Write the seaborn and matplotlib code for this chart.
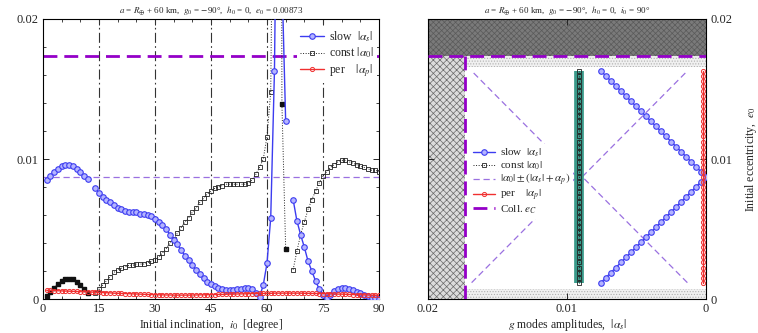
import numpy as np
import seaborn as sns
import matplotlib
matplotlib.use("Agg")
import matplotlib.pyplot as plt

sns.set_theme(style="ticks")
plt.rcParams['font.family'] = ['Liberation Serif', 'DejaVu Serif']
plt.rcParams['mathtext.fontset'] = 'stix'
plt.rcParams['hatch.linewidth'] = 0.5

# ---- left panel data (inclination scan, e0 = 0.00873) ----
incl = list(range(1, 91))
slow_i = [0.0085, 0.0088, 0.0091, 0.0093, 0.0095, 0.00955, 0.0096, 0.0095, 0.0093, 0.0091,
          0.0088, 0.0086, np.nan, 0.0079, 0.0076, 0.0073, 0.0071, 0.0069, 0.0067, 0.0065,
          0.0064, 0.0063, 0.0062, 0.0062, 0.0062, 0.0061, 0.0061, 0.0060, 0.0059, 0.0057,
          0.0055, 0.0053, 0.0050, 0.0046, 0.0042, 0.0039, 0.0035, 0.0031, 0.0028, 0.0024,
          0.0021, 0.0018, 0.0015, 0.0012, 0.00105, 0.0009, 0.0008, 0.0007, 0.00065, 0.00064,
          0.00065, 0.0007, 0.00075, 0.0008, 0.0008, 0.0007, 0.0004, 0.00015, 0.0010, 0.00255,
          0.0058, 0.0163, 0.040, 0.023, 0.0127, np.nan, 0.0071, 0.0056, 0.0046, 0.0037,
          0.0027, 0.0020, 0.0013, 0.0007, 0.0003, 0.0001, 0.0003, 0.0006, 0.00075, 0.0008,
          0.0008, 0.00075, 0.00065, 0.0005, 0.0004, 0.0003, 0.0002, 0.0001, 0.00005, 0.00002]
const_i = [0.0002, 0.0005, 0.0008, 0.0011, 0.0013, 0.0014, 0.0014, 0.0014, 0.0012, 0.0010,
           0.0007, 0.0004, np.nan, 0.0004, 0.0007, 0.0010, 0.0013, 0.0016, 0.0019, 0.0021,
           0.0022, 0.0023, 0.0024, 0.0024, 0.0025, 0.0025, 0.0025, 0.0026, 0.0027, 0.0028,
           0.0030, 0.0033, 0.0036, 0.0040, 0.0043, 0.0047, 0.0051, 0.0055, 0.0058, 0.0062,
           0.0065, 0.0069, 0.0072, 0.0075, 0.0077, 0.0079, 0.0080, 0.0081, 0.0082, 0.0082,
           0.0082, 0.0082, 0.0082, 0.0082, 0.0083, 0.0085, 0.0089, 0.0094, 0.0100, 0.0116,
           0.0148, 0.041, 0.15, 0.0139, 0.0036, np.nan, 0.0021, 0.0034, 0.0046, 0.0055,
           0.0064, 0.0071, 0.0077, 0.0083, 0.0088, 0.0091, 0.0094, 0.0096, 0.0098, 0.0099,
           0.0099, 0.0098, 0.0097, 0.0096, 0.0095, 0.0094, 0.0093, 0.0092, 0.0092, 0.0091]
const_filled = [1, 2, 3, 4, 5, 6, 7, 8, 9, 10, 11, 12, 64, 65]
per_i = [0.00062, 0.00061, 0.0006, 0.00059, 0.00058, 0.00057, 0.00056, 0.00055, 0.00054, 0.00053,
         0.00052, 0.00051, 0.0005, 0.00049, 0.00047, 0.00046, 0.00045, 0.00044, 0.00042, 0.00041,
         0.0004, 0.00039, 0.00038, 0.00037, 0.00036, 0.00035, 0.00034, 0.00033, 0.00032, 0.00031,
         0.0003, 0.0003, 0.00029, 0.00029, 0.00028, 0.00028, 0.00028, 0.00028, 0.00028, 0.00029,
         0.00029, 0.0003, 0.0003, 0.00031, 0.00031, 0.00032, 0.00033, 0.00033, 0.00034, 0.00035,
         0.00035, 0.00036, 0.00037, 0.00037, 0.00038, 0.00039, 0.00039, 0.0004, 0.0004, 0.00041,
         0.00041, 0.00042, 0.00042, 0.00042, 0.00042, 0.00042, 0.00042, 0.00042, 0.00042, 0.00041,
         0.00041, 0.0004, 0.0004, 0.00039, 0.00039, 0.00038, 0.00037, 0.00036, 0.00035, 0.00035,
         0.00034, 0.00033, 0.00032, 0.00031, 0.0003, 0.0003, 0.00029, 0.00028, 0.00028, 0.00027]
e_coll = 0.01736
e0_fixed = 0.00873
div_incl = [15, 30, 45, 60, 75]

# ---- right panel data (eccentricity scan, i0 = 90 deg) ----
ecc = [0.00117, 0.00153, 0.00189, 0.00225, 0.00261, 0.00297, 0.00333, 0.00369, 0.00405, 0.00441,
       0.00477, 0.00513, 0.00549, 0.00585, 0.00621, 0.00657, 0.00693, 0.00729, 0.00765, 0.00801,
       0.00837, 0.00873, 0.00909, 0.00945, 0.00981, 0.01017, 0.01053, 0.01089, 0.01125, 0.01161,
       0.01197, 0.01233, 0.01269, 0.01305, 0.01341, 0.01377, 0.01413, 0.01449, 0.01485, 0.01521,
       0.01557, 0.01593, 0.01629]
slow_e = [0.00756, 0.0072, 0.00684, 0.00648, 0.00612, 0.00576, 0.0054, 0.00504, 0.00468, 0.00432,
          0.00396, 0.0036, 0.00324, 0.00288, 0.00252, 0.00216, 0.0018, 0.00144, 0.00108, 0.00072,
          0.00036, 0.0, 0.00036, 0.00072, 0.00108, 0.00144, 0.0018, 0.00216, 0.00252, 0.00288,
          0.00324, 0.0036, 0.00396, 0.00432, 0.00468, 0.00504, 0.0054, 0.00576, 0.00612, 0.00648,
          0.00684, 0.0072, 0.00756]
const_e = [0.0091] * len(ecc)
per_e = [0.0002] * len(ecc)
strip_low = 0.00075
strip_high = 0.0166

blue = '#3c3cf0'
blue_fill = '#b4b4ff'
red = '#f03030'
purple = '#9400c8'
lpurple = '#9a70e0'
teal = '#3a9a8a'

fig = plt.figure(figsize=(7.58, 3.33), dpi=100)
ax1 = fig.add_axes([0.0567, 0.102, 0.4433, 0.841])
ax2 = fig.add_axes([0.5646, 0.102, 0.3668, 0.841])

# ---------------- left ----------------
x = np.array(incl)
for v in div_incl:
    ax1.axvline(v, color='#333333', lw=0.8, dashes=(9, 3, 1.5, 3), zorder=1)
ax1.axhline(e0_fixed, color=lpurple, lw=0.9, dashes=(5, 3), zorder=1)
ax1.axhline(e_coll, color=purple, lw=2.0, dashes=(5, 2.5), zorder=1)

ax1.plot(x, slow_i, color=blue, lw=1.0, marker='o', ms=4, mfc=blue_fill, mew=0.8,
         label=r'slow  $|\alpha_s|$', zorder=4)
ax1.plot(x, const_i, color='#222222', lw=0.7, ls=':', marker='s', ms=2.6, mfc='none', mew=0.6,
         label=r'const $|\alpha_0|$', zorder=3)
fill_idx = [incl.index(k) for k in const_filled]
ax1.plot(x[fill_idx], np.array(const_i)[fill_idx], ls='none', marker='s', ms=2.6,
         color='#111111', zorder=3)
sns.lineplot(x=incl, y=per_i, ax=ax1, color=red, lw=1.0, marker='o', markersize=3,
             markerfacecolor='none', markeredgecolor=red, markeredgewidth=0.7,
             label=r'per    $|\alpha_p|$', zorder=5)

ax1.set_xlim(0, 90)
ax1.set_ylim(0, 0.02)
ax1.set_xticks([0, 15, 30, 45, 60, 75, 90])
ax1.set_xticks(range(0, 91, 5), minor=True)
ax1.set_yticks([0, 0.01, 0.02])
ax1.set_yticklabels(['0', '0.01', '0.02'])
ax1.set_yticks(np.arange(0, 0.0201, 0.002), minor=True)
ax1.tick_params(which='both', direction='in', top=True, right=True, labelsize=9, pad=3)
ax1.tick_params(which='major', length=4, width=0.7)
ax1.tick_params(which='minor', length=2, width=0.6)
ax1.set_xlabel(r'Initial inclination,  $i_0$  [degree]', fontsize=8.5, labelpad=1)
ax1.set_title(r'$a$ = $R_{\oplus}$ + 60 km,  $g_0$ = $-$90°,  $h_0$ = 0,  $e_0$ = 0.00873',
              fontsize=6.5, pad=4)
leg1 = ax1.legend(loc='upper left', bbox_to_anchor=(0.755, 0.975), fontsize=8.5, frameon=True,
                  framealpha=1, edgecolor='none', handlelength=2.0, handletextpad=0.4,
                  labelspacing=0.15, borderpad=0.3, borderaxespad=0)
leg1.get_frame().set_linewidth(0)

# ---------------- right ----------------
# background regions
ax2.fill_between([0, 0.02], e_coll, 0.02, facecolor='#7a7a7a', hatch='xxxxxx',
                 edgecolor='#5a5a5a', lw=0, zorder=0)
ax2.fill_between([0.02, e_coll], 0, e_coll, facecolor='#dcdcdc', hatch='xxxxx',
                 edgecolor='#6a6a6a', lw=0, zorder=0)
ax2.fill_between([0, e_coll], strip_high, e_coll, facecolor='#f0f0f0', hatch='......',
                 edgecolor='#b0b0b0', lw=0, zorder=0)
ax2.fill_between([0, e_coll], 0, strip_low, facecolor='#f0f0f0', hatch='......',
                 edgecolor='#b0b0b0', lw=0, zorder=0)

upper = np.array(const_e) + np.array(slow_e) + np.array(per_e)
lower = np.array(const_e) - np.array(slow_e) - np.array(per_e)

ax2.plot(const_e, ecc, color=teal, lw=7, solid_capstyle='butt', zorder=2)
sns.lineplot(x=slow_e, y=ecc, ax=ax2, sort=False, estimator=None, color=blue, lw=1.0,
             marker='o', markersize=4, markerfacecolor=blue_fill, markeredgecolor=blue,
             markeredgewidth=0.8, label=r'slow  $|\alpha_s|$', zorder=4)
ax2.plot(const_e, ecc, color='#222222', lw=0.7, ls=':', marker='s', ms=2.6, mfc='none',
         mew=0.6, label=r'const $|\alpha_0|$', zorder=3)
ax2.plot(upper[:22], ecc[:22], color=lpurple, lw=0.9, dashes=(5, 3), zorder=1,
         label=r'$|\alpha_0| \pm (|\alpha_s| + \alpha_p)$')
ax2.plot(upper[21:], ecc[21:], color=lpurple, lw=0.9, dashes=(5, 3), zorder=1)
ax2.plot(lower[:22], ecc[:22], color=lpurple, lw=0.9, dashes=(5, 3), zorder=1)
ax2.plot(lower[21:], ecc[21:], color=lpurple, lw=0.9, dashes=(5, 3), zorder=1)
ax2.plot(per_e, ecc, color=red, lw=1.0, marker='o', ms=3, mfc='none', mew=0.7,
         label=r'per    $|\alpha_p|$', zorder=5)
ax2.axvline(e_coll, ymax=e_coll / 0.02, color=purple, lw=2.0, dashes=(5, 2.5), zorder=3,
            label=r'Coll. $e_C$')
ax2.axhline(e_coll, color=purple, lw=2.0, dashes=(5, 2.5), zorder=3)

ax2.set_xlim(0.02, 0)
ax2.set_ylim(0, 0.02)
ax2.set_xticks([0.02, 0.01, 0])
ax2.set_xticklabels(['0.02', '0.01', '0'])
ax2.set_yticks([0, 0.01, 0.02])
ax2.set_yticklabels(['0', '0.01', '0.02'])
ax2.yaxis.tick_right()
ax2.yaxis.set_label_position('right')
ax2.tick_params(which='both', direction='in', top=True, left=True, right=True,
                labelsize=9, length=4, width=0.7, pad=3)
ax2.set_xlabel(r'$g$ modes amplitudes,  $|\alpha_s|$', fontsize=8.5, labelpad=1)
ax2.set_ylabel(r'Initial eccentricity,  $e_0$', fontsize=8.5, labelpad=8)
ax2.set_title(r'$a$ = $R_{\oplus}$ + 60 km,  $g_0$ = $-$90°,  $h_0$ = 0,  $i_0$ = 90°',
              fontsize=6.5, pad=4)
leg2 = ax2.legend(loc='upper left', bbox_to_anchor=(0.15, 0.555), fontsize=8, frameon=True,
                  framealpha=1, edgecolor='none', handlelength=2.0, handletextpad=0.4,
                  labelspacing=0.0, borderpad=0.3, borderaxespad=0)
leg2.get_frame().set_linewidth(0)

for ax in (ax1, ax2):
    for s in ax.spines.values():
        s.set_linewidth(0.8)
        s.set_color('black')

fig.savefig('out.png', dpi=100)
